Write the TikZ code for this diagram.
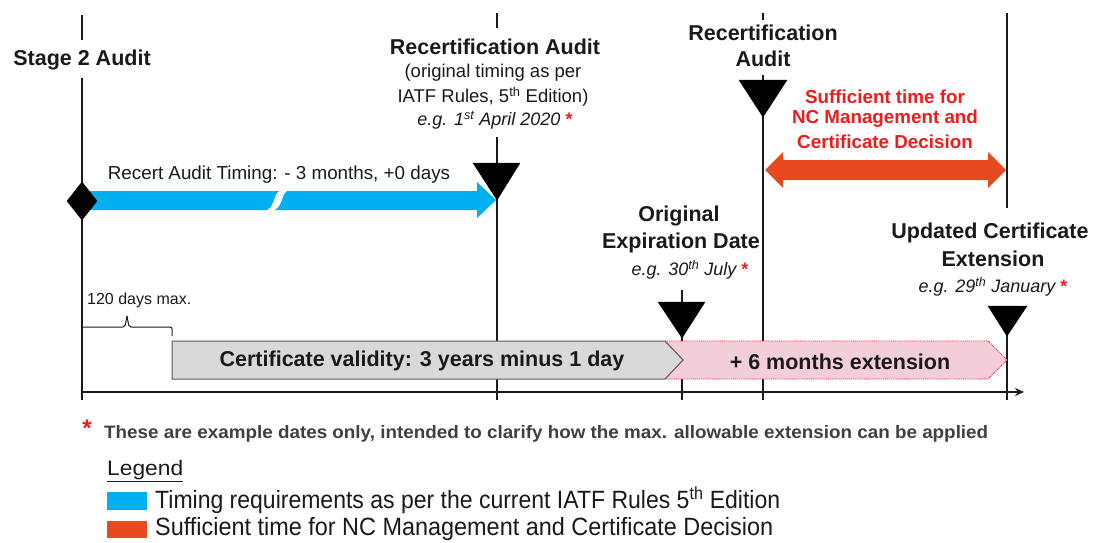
\documentclass[tikz,border=0pt]{standalone}
\usepackage{fontspec}
\setmainfont{Liberation Sans}
\usepackage{graphicx}
\usetikzlibrary{arrows.meta}
\definecolor{iatfblue}{HTML}{00B0F0}
\definecolor{ncred}{HTML}{E84A1F}
\definecolor{txtred}{HTML}{EE1C1C}
\definecolor{pinkfill}{HTML}{F2CDDA}
\definecolor{greyfill}{HTML}{D9D9D9}
\definecolor{boxedge}{HTML}{5A5A5A}
\definecolor{foottxt}{HTML}{404040}
\definecolor{ink}{HTML}{1A1A1A}
\newcommand\fitw[2]{\resizebox{#1}{\height}{#2}}
\newcommand\rstar{{\color{txtred}\upshape\bfseries*}}
\tikzset{
  vline/.style={line width=1.6pt, ink},
  marker/.style={fill=black, draw=black},
  big/.style={font=\bfseries\fontsize{21.5}{24}\selectfont, text=ink, inner sep=0, anchor=center},
  mid/.style={font=\fontsize{18.5}{22}\selectfont, text=ink, inner sep=0, anchor=center},
  eg/.style={font=\itshape\fontsize{18}{20}\selectfont, text=ink, inner sep=0, anchor=center},
  redtxt/.style={font=\bfseries\fontsize{18.8}{22}\selectfont, text=txtred, inner sep=0, anchor=center},
  legtxt/.style={font=\fontsize{25}{27}\selectfont, text=ink, inner sep=0, anchor=west},
}
\begin{document}
\begin{tikzpicture}[x=1pt,y=-1pt]
\useasboundingbox[fill=white] (0,0) rectangle (1094,542);

% vertical lines
\draw[vline] (82,15) -- (82,40) (82,78) -- (82,400);
\draw[vline] (497,13) -- (497,28) (497,137) -- (497,400);
\draw[vline] (763,13) -- (763,20) (763,75) -- (763,400);
\draw[vline] (1007,13) -- (1007,208) (1007,320) -- (1007,400);
\draw[vline] (682,290) -- (682,400);

% axis
\coordinate (axs) at (82,392);
\coordinate (axe) at (1024,392);
\draw[vline, -{Stealth[length=9pt,width=8pt]}] (axs) -- (axe);

% blue timing arrow (with break)
\fill[iatfblue] (90,191) -- (279,191) .. controls (272,197) and (276,204) .. (267,210) -- (90,210) -- cycle;
\fill[iatfblue] (287,191) -- (477,191) -- (477,182) -- (496,200) -- (477,218) -- (477,210) -- (275,210)
  .. controls (284,204) and (280,197) .. (287,191) -- cycle;
\node[mid, font=\fontsize{18.8}{22}\selectfont] (timing) at (279,175) {Recert Audit Timing: - 3 months, +0 days};

% diamond
\fill[marker] (82,182) -- (97,201) -- (82,220) -- (67,201) -- cycle;

% triangles
\fill[marker] (473,163) -- (520,163) -- (497,200) -- cycle;
\fill[marker] (739,80) -- (787,80) -- (763,117) -- cycle;
\fill[marker] (658,302) -- (705,302) -- (682,338) -- cycle;
\fill[marker] (988,306) -- (1027,306) -- (1007,336) -- cycle;

% red double arrow
\fill[ncred] (765,170) -- (783,152) -- (783,160) -- (988,160) -- (988,152) -- (1006,170)
  -- (988,188) -- (988,180) -- (783,180) -- (783,188) -- cycle;

% bars
\filldraw[fill=pinkfill, draw=txtred, densely dotted, line width=0.9pt]
  (665,341) -- (988,341) -- (1007,360) -- (988,379) -- (665,379) -- (683,360) -- cycle;
\filldraw[fill=greyfill, draw=boxedge, line width=1pt]
  (172,341) -- (665,341) -- (683,360) -- (665,379) -- (172,379) -- cycle;
\node[big] (valid) at (422,361) {Certificate validity: 3 years minus 1 day};
\node[big] (ext) at (840,362) {+ 6 months extension};

% brace
\draw[ink, line width=1pt, rounded corners=2pt] (82,327) -- (125,327) -- (127,316);
\draw[ink, line width=1pt, rounded corners=2pt] (127,316) -- (129,327) -- (172,327) -- (172,336);
\node[mid, font=\fontsize{16}{18}\selectfont, anchor=west] (maxd) at (87,300) {120 days max.};

% labels
\node[big] (s2) at (82,60) {Stage 2 Audit};

\node[big] (ra1) at (495,47) {Recertification Audit};
\node[mid] (ra2) at (493,73) {(original timing as per};
\node[mid] (ra3) at (493,97) {IATF Rules, 5\textsuperscript{th} Edition)};
\node[eg] (ra4) at (495,120) {e.g. 1\textsuperscript{st} April 2020 \rstar};

\node[big] (rb1) at (763,33) {Recertification};
\node[big] (rb2) at (763,59) {Audit};

\node[redtxt] (nc1) at (885,97) {Sufficient time for};
\node[redtxt] (nc2) at (885,119) {NC Management and};
\node[redtxt] (nc3) at (885,142) {Certificate Decision};

\node[big] (oe1) at (679,216) {Original};
\node[big] (oe2) at (681,243) {Expiration Date};
\node[eg] (oe3) at (690,270) {e.g. 30\textsuperscript{th} July \rstar};

\node[big] (uc1) at (990,233) {Updated Certificate};
\node[big] (uc2) at (993,259) {Extension};
\node[eg] (uc3) at (993,287) {e.g. 29\textsuperscript{th} January \rstar};

% footnote
\node[inner sep=0, text=txtred, font=\bfseries\fontsize{24}{24}\selectfont] (fstar) at (87,428) {*};
\node[inner sep=0, anchor=west, text=foottxt, font=\bfseries\fontsize{18}{20}\selectfont] (foot) at (104,434)
  {\fitw{884pt}{These are example dates only, intended to clarify how the max. allowable extension can be applied}};

% legend
\node[legtxt, font=\fontsize{21}{24}\selectfont] (leg) at (107,471) {\fitw{76pt}{\underline{Legend}}};
\fill[iatfblue] (107,492) rectangle (147,510);
\fill[ncred] (107,521) rectangle (147,538);
\node[legtxt] (leg1) at (155,500) {\fitw{625pt}{Timing requirements as per the current IATF Rules 5\textsuperscript{th} Edition}};
\node[legtxt] (leg2) at (155,529) {\fitw{618pt}{Sufficient time for NC Management and Certificate Decision}};
\end{tikzpicture}
\end{document}
